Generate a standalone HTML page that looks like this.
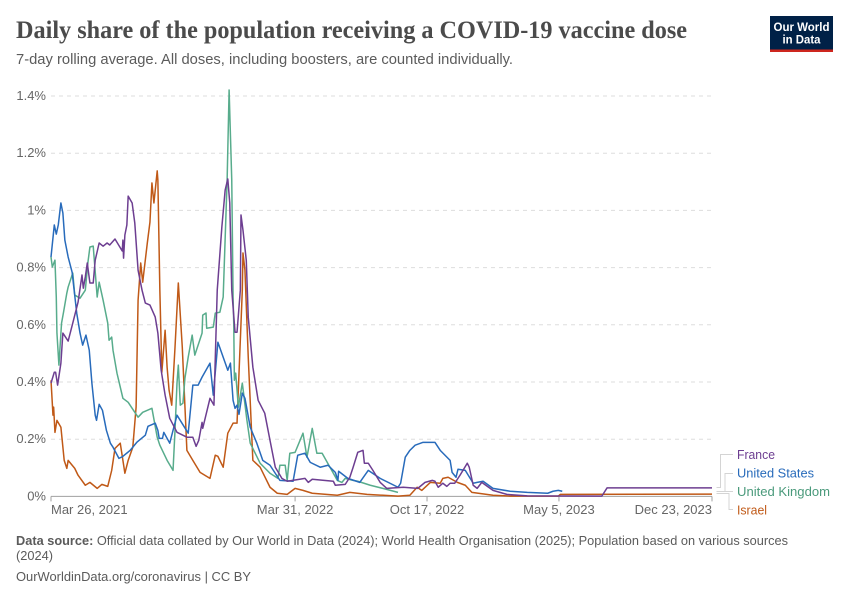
<!DOCTYPE html>
<html lang="en">
<head>
<meta charset="utf-8">
<title>Daily share of the population receiving a COVID-19 vaccine dose</title>
<style>
html,body{margin:0;padding:0;background:#fff;}
svg{display:block;font-family:"Liberation Sans",sans-serif;}
</style>
</head>
<body>
<svg id="chart" width="850" height="600" viewBox="0 0 850 600" xmlns="http://www.w3.org/2000/svg">
  <rect x="0" y="0" width="850" height="600" fill="#fff"/>
  <text x="16" y="38" font-family="'Liberation Serif',serif" font-weight="bold" font-size="25" fill="#4b4b4b" textLength="671" lengthAdjust="spacingAndGlyphs">Daily share of the population receiving a COVID-19 vaccine dose</text>
  <text x="16" y="64" font-size="14.5" fill="#5b5b5b" textLength="497" lengthAdjust="spacingAndGlyphs">7-day rolling average. All doses, including boosters, are counted individually.</text>
  <g>
    <rect x="770" y="16" width="63" height="36" fill="#002147"/>
    <rect x="770" y="49.5" width="63" height="2.5" fill="#ce261e"/>
    <text x="801.5" y="31" text-anchor="middle" font-size="12" font-weight="bold" fill="#fff" textLength="56" lengthAdjust="spacingAndGlyphs">Our World</text>
    <text x="801.5" y="43.5" text-anchor="middle" font-size="12" font-weight="bold" fill="#fff" textLength="38" lengthAdjust="spacingAndGlyphs">in Data</text>
  </g>
  <g id="grid"></g>
  <g id="yLabels"></g>
  <g id="xAxis"></g>
  <g id="series"></g>
  <g fill="none" stroke="#d4d4d4" stroke-width="1">
    <path d="M716.5 487.5H720.5V454.5H733"/>
    <path d="M716.5 491.5H725V473.5H733"/>
    <path d="M716.5 491.5H733"/>
    <path d="M716.5 493.5H729V509.5H733"/>
  </g>
  <text x="737" y="459" font-size="13" fill="#6d3e91" textLength="38" lengthAdjust="spacingAndGlyphs">France</text>
  <text x="737" y="477.500" font-size="13" fill="#286bbb" textLength="77" lengthAdjust="spacingAndGlyphs">United States</text>
  <text x="737" y="496" font-size="13" fill="#4a9a7b" textLength="93" lengthAdjust="spacingAndGlyphs">United Kingdom</text>
  <text x="737" y="514.500" font-size="13" fill="#c05917" textLength="30" lengthAdjust="spacingAndGlyphs">Israel</text>
  <text x="16" y="545" font-size="13" fill="#5b5b5b" textLength="772" lengthAdjust="spacingAndGlyphs"><tspan font-weight="bold">Data source:</tspan> Official data collated by Our World in Data (2024); World Health Organisation (2025); Population based on various sources</text>
  <text x="16" y="560" font-size="13" fill="#5b5b5b" textLength="37" lengthAdjust="spacingAndGlyphs">(2024)</text>
  <text x="16" y="581" font-size="13" fill="#5b5b5b" textLength="235" lengthAdjust="spacingAndGlyphs">OurWorldinData.org/coronavirus | CC BY</text>
</svg>
<script>
const yTicks = [0, 0.2, 0.4, 0.6, 0.8, 1, 1.2, 1.4];
const yTickLabels = ["0%", "0.2%", "0.4%", "0.6%", "0.8%", "1%", "1.2%", "1.4%"];
const xTickDays = [0, 370, 570, 770, 1002];
const xTickLabels = ["Mar 26, 2021", "Mar 31, 2022", "Oct 17, 2022", "May 5, 2023", "Dec 23, 2023"];

const israelDays = [0,3,4,6,9,15,20,24,26,36,41,52,59,70,77,86,92,97,105,112,117,124,129,132,136,139,146,150,153,156,161,162,165,168,173,176,179,183,188,193,199,206,215,226,241,249,253,261,268,276,282,285,290,291,294,299,306,317,332,343,358,370,382,396,434,453,479,526,544,555,562,575,590,594,602,616,628,638,670,696,769,772,1002];
const israelValues = [.406,.284,.312,.224,.266,.242,.126,.098,.126,.098,.074,.039,.049,.028,.042,.035,.091,.168,.186,.081,.126,.172,.312,.686,.816,.749,.886,.959,1.096,1.026,1.138,1.106,.721,.434,.581,.452,.371,.319,.522,.746,.522,.161,.126,.084,.063,.144,.140,.102,.221,.256,.256,.431,.721,.851,.791,.487,.126,.102,.032,.011,.007,.028,.021,.011,.004,.014,.007,.001,.004,.032,.021,.049,.046,.063,.067,.049,.039,.014,.004,.001,.001,.007,.008];

const ukDays = [0,2,6,8,9,12,16,19,24,26,33,36,44,52,56,59,64,70,73,79,86,88,92,94,100,109,117,123,132,139,153,161,165,176,185,188,191,193,196,200,203,208,214,218,229,230,235,236,246,249,256,261,267,270,274,276,277,278,280,284,290,297,302,317,332,344,347,355,358,362,370,382,388,396,403,411,428,434,441,446,458,465,484,503,526];
const ukValues = [.837,.802,.826,.697,.571,.459,.606,.644,.711,.732,.781,.704,.693,.721,.819,.872,.875,.697,.749,.686,.606,.546,.557,.511,.431,.343,.329,.308,.277,.294,.308,.207,.179,.126,.091,.231,.396,.459,.319,.326,.413,.487,.564,.494,.571,.634,.641,.588,.592,.641,.644,.697,1.106,1.421,1.106,.697,.606,.406,.431,.312,.396,.266,.186,.116,.081,.063,.109,.109,.056,.151,.154,.221,.137,.238,.151,.151,.081,.056,.049,.063,.056,.053,.039,.028,.014];

const usDays = [0,5,8,11,15,18,21,26,32,39,44,48,53,58,62,67,69,73,78,84,90,94,103,109,120,130,143,147,158,162,164,169,171,180,185,191,208,215,223,229,241,246,253,268,272,276,279,282,285,290,294,302,312,321,332,347,367,374,385,393,408,420,431,435,436,450,468,481,499,526,530,537,544,552,564,582,590,605,608,614,617,628,640,646,655,670,696,722,753,761,769,775];
const usValues = [.837,.949,.917,.949,1.026,.991,.896,.837,.784,.641,.571,.529,.564,.511,.396,.284,.266,.322,.301,.231,.186,.172,.133,.140,.161,.189,.214,.245,.256,.231,.203,.203,.224,.186,.231,.284,.221,.389,.389,.417,.466,.354,.539,.441,.466,.336,.308,.319,.287,.361,.343,.242,.186,.126,.109,.056,.053,.144,.151,.119,.102,.109,.084,.056,.088,.063,.049,.091,.063,.032,.046,.137,.161,.179,.189,.189,.161,.126,.084,.067,.095,.091,.046,.049,.053,.028,.018,.014,.011,.018,.021,.018];

const franceDays = [0,5,7,10,15,18,26,33,41,47,49,52,55,59,64,67,73,79,85,89,97,108,109,110,112,115,117,123,127,132,138,143,150,158,162,167,173,180,191,206,215,220,224,229,230,241,247,252,259,264,268,271,274,279,282,287,288,291,296,299,306,314,324,332,340,350,358,377,385,390,396,428,431,446,453,458,465,473,475,481,488,499,509,534,556,567,578,582,587,594,600,605,612,620,631,634,640,646,653,670,691,722,835,843,1002];
const franceValues = [.396,.434,.434,.389,.466,.571,.543,.606,.679,.774,.728,.767,.816,.746,.746,.826,.886,.875,.886,.879,.900,.858,.896,.833,.914,.949,1.050,1.026,.956,.791,.721,.676,.669,.627,.571,.441,.354,.273,.224,.207,.207,.175,.196,.259,.238,.343,.319,.721,.942,1.071,1.110,1.026,.721,.574,.574,.721,.984,.931,.826,.627,.452,.336,.291,.196,.102,.063,.053,.060,.063,.049,.060,.053,.039,.042,.067,.102,.154,.161,.116,.116,.091,.049,.028,.032,.028,.049,.056,.053,.032,.046,.035,.046,.046,.074,.116,.102,.039,.028,.049,.021,.007,.002,.001,.030,.030];

const SVG_NS = "http://www.w3.org/2000/svg";
const xLeft = 51, xRight = 712, yBottom = 496.4, yTop = 96, dayMax = 1002, shareMax = 1.4;
function xScale(day) { return xLeft + (day / dayMax) * (xRight - xLeft); }
function yScale(share) { return yBottom - (share / shareMax) * (yBottom - yTop); }
function make(tag, attrs, parent) {
  const el = document.createElementNS(SVG_NS, tag);
  for (const k in attrs) el.setAttribute(k, attrs[k]);
  parent.appendChild(el);
  return el;
}
const gridGroup = document.getElementById("grid");
const yLabelGroup = document.getElementById("yLabels");
const xAxisGroup = document.getElementById("xAxis");
const seriesGroup = document.getElementById("series");

yTicks.forEach(function (tick, i) {
  if (tick > 0) {
    const grid = make("line", {x1: xLeft, x2: xRight, y1: yScale(tick), y2: yScale(tick), stroke: "#dddddd", "stroke-width": 1, "stroke-dasharray": "4,4"}, gridGroup);
    
    
  }
  const label = make("text", {x: 46, y: yScale(tick) + 4, "text-anchor": "end", "font-size": 13, fill: "#666666"}, yLabelGroup);
  label.textContent = yTickLabels[i];
  
  
});

const axisLine = make("line", {x1: xLeft, x2: xRight, y1: yBottom, y2: yBottom, stroke: "#a1a1a1", "stroke-width": 1}, xAxisGroup);



xTickDays.forEach(function (day, i) {
  const px = xScale(day);
  const tick = make("line", {x1: px, x2: px, y1: yBottom, y2: yBottom + 5, stroke: "#a1a1a1", "stroke-width": 1}, xAxisGroup);
  
  
  const anchor = i === 0 ? "start" : (i === xTickDays.length - 1 ? "end" : "middle");
  const label = make("text", {x: px, y: 514, "text-anchor": anchor, "font-size": 13, fill: "#666666"}, xAxisGroup);
  label.textContent = xTickLabels[i];
  
  
});

function drawSeries(days, values, color) {
  const d = days.map(function (day, i) {
    return (i ? "L" : "M") + xScale(day).toFixed(2) + " " + yScale(values[i]).toFixed(2);
  }).join("");
  return make("path", {d: d, fill: "none", stroke: color, "stroke-width": 1.5, "stroke-linejoin": "round"}, seriesGroup);
}
const israelLine = drawSeries(israelDays, israelValues, "#c05917");


const ukLine = drawSeries(ukDays, ukValues, "#58ac8c");


const usLine = drawSeries(usDays, usValues, "#286bbb");


const franceLine = drawSeries(franceDays, franceValues, "#6d3e91");


</script>
</body>
</html>
